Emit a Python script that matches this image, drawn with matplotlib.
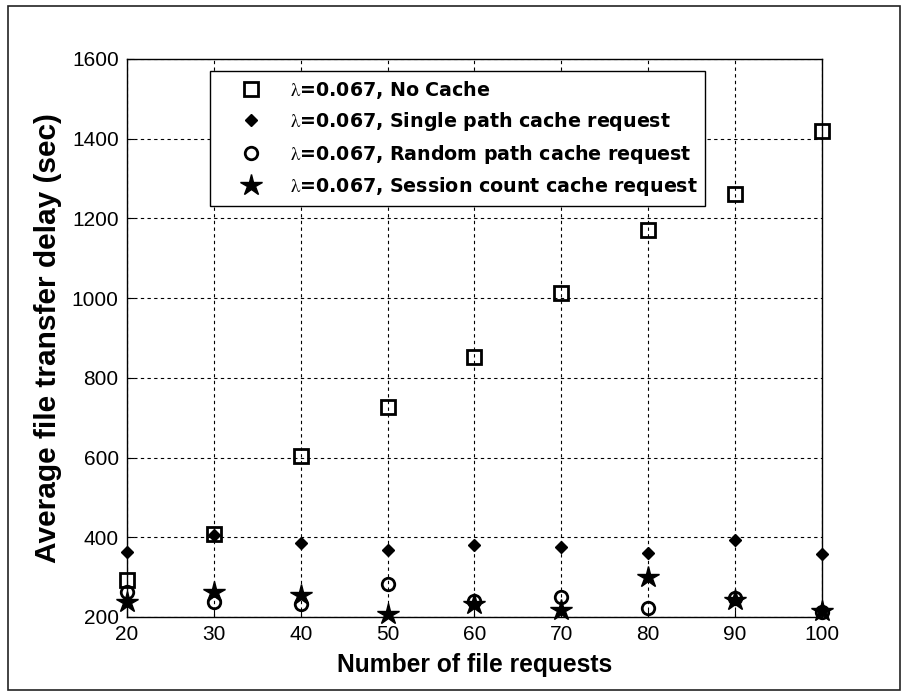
import matplotlib
matplotlib.use("Agg")
import matplotlib.pyplot as plt
from matplotlib.patches import Rectangle

# Number of file requests
requests = [20, 30, 40, 50, 60, 70, 80, 90, 100]

# Average file transfer delay (sec) per caching strategy
no_cache = [292, 408, 605, 727, 853, 1013, 1172, 1262, 1420]
single_path = [362, 405, 385, 368, 380, 376, 360, 392, 358]
random_path = [262, 237, 233, 284, 240, 250, 222, 248, 212]
session_count = [238, 262, 256, 207, 232, 218, 301, 242, 215]

series_labels = [
    r"$\mathrm{\lambda}$=0.067, No Cache",
    r"$\mathrm{\lambda}$=0.067, Single path cache request",
    r"$\mathrm{\lambda}$=0.067, Random path cache request",
    r"$\mathrm{\lambda}$=0.067, Session count cache request",
]

x_ticks = [20, 30, 40, 50, 60, 70, 80, 90, 100]
y_ticks = [200, 400, 600, 800, 1000, 1200, 1400, 1600]

plt.rcParams["font.family"] = ["Liberation Sans", "DejaVu Sans"]
plt.rcParams["mathtext.fontset"] = "stix"

fig = plt.figure(figsize=(9.02, 6.92), dpi=100)
fig.patch.set_facecolor("white")

# thin frame around the whole figure
fig.patches.append(Rectangle((0.009, 0.003), 0.989, 0.988, transform=fig.transFigure,
                             fill=False, edgecolor="#222222", linewidth=1.2))

ax = fig.add_axes([0.1408, 0.1084, 0.7705, 0.8064])

ax.plot(requests, no_cache, linestyle="none", marker="s", markersize=10,
        markerfacecolor="none", markeredgecolor="black", markeredgewidth=2,
        label=series_labels[0], clip_on=False, zorder=3)
ax.plot(requests, single_path, linestyle="none", marker="D", markersize=6.5,
        color="black", label=series_labels[1], clip_on=False, zorder=3)
ax.plot(requests, random_path, linestyle="none", marker="o", markersize=9,
        markerfacecolor="none", markeredgecolor="black", markeredgewidth=2,
        label=series_labels[2], clip_on=False, zorder=3)
ax.plot(requests, session_count, linestyle="none", marker="*", markersize=16,
        color="black", label=series_labels[3], clip_on=False, zorder=3)

ax.set_xlim(20, 100)
ax.set_ylim(200, 1600)
ax.set_xticks(x_ticks)
ax.set_yticks(y_ticks)
ax.tick_params(direction="in", length=5, width=0.8, labelsize=15, pad=6)

ax.grid(True, color="black", linestyle=(0, (3, 3)), linewidth=0.8)
ax.set_axisbelow(True)
for s in ax.spines.values():
    s.set_linewidth(1.0)
    s.set_color("black")

ax.set_xlabel("Number of file requests", fontsize=17.7, fontweight="bold", labelpad=6)
ax.set_ylabel("Average file transfer delay (sec)", fontsize=21.5, fontweight="bold", labelpad=7)

leg = ax.legend(loc="upper left", bbox_to_anchor=(0.1194, 0.9785), borderaxespad=0,
                frameon=True, fancybox=False, edgecolor="black", framealpha=1,
                prop={"family": "DejaVu Sans", "weight": "bold", "size": 13.7},
                handlelength=3.5, handletextpad=0.3, labelspacing=0.5,
                borderpad=0.4)
leg.get_frame().set_linewidth(1.0)

fig.savefig("out.png", dpi=100)
